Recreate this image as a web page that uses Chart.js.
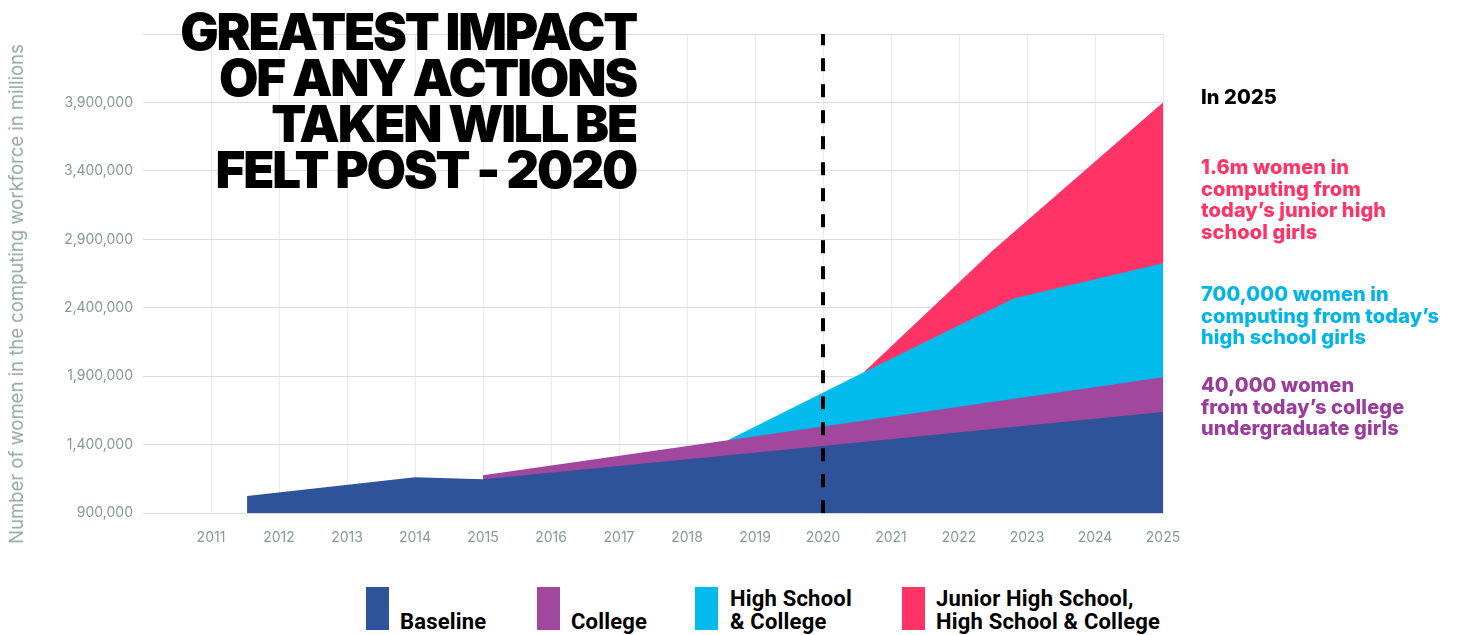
<!DOCTYPE html>
<html>
<head>
<meta charset="utf-8">
<script src="https://cdn.jsdelivr.net/npm/chart.js@4.4.1/dist/chart.umd.min.js"></script>
<style>
  body { margin: 0; background: #fff; }
  #wrap { position: relative; width: 1462px; height: 635px; overflow: hidden; }
  #chartBox { position: absolute; left: 0; top: 0; width: 1462px; height: 576px; }
  .title {
    position: absolute; left: 0; top: 9px; width: 636px; text-align: right;
    font: 900 51px/46px Inter, sans-serif; letter-spacing: -2.2px; color: #000;
  }
  .yTitle {
    position: absolute; left: 16px; top: 294px; white-space: nowrap;
    transform: translate(-50%, -50%) rotate(-90deg);
    font: 400 18.5px Inter, sans-serif; color: #9aa6a4;
  }
  .note { position: absolute; left: 1201px; font: 800 20px/21.5px Inter, sans-serif; letter-spacing: 0.1px; }
  .leg { position: absolute; top: 587px; width: 23px; height: 43px; }
  .legTxt { position: absolute; font: 700 22px/23px Roboto, sans-serif; letter-spacing: 0.2px; color: #000; }
</style>
</head>
<body>
<div id="wrap">
  <div id="chartBox"><canvas id="chartWomen"></canvas></div>

  <div class="yTitle">Number of women in the computing workforce in millions</div>

  <div class="title">GREATEST IMPACT<br>OF ANY ACTIONS<br>TAKEN WILL BE<br>FELT POST - 2020</div>

  <div class="note" style="top:87px;color:#000;">In 2025</div>
  <div class="note" style="top:157px;color:#ff3366;">1.6m women in<br>computing from<br>today’s junior high<br>school girls</div>
  <div class="note" style="top:284px;color:#00b5e8;">700,000 women in<br>computing from today’s<br>high school girls</div>
  <div class="note" style="top:375px;color:#9b3c9c;">40,000 women<br>from today’s college<br>undergraduate girls</div>

  <div class="leg" style="left:366px;background:#2e539b;"></div>
  <div class="legTxt" style="left:400px;top:610px;">Baseline</div>
  <div class="leg" style="left:537px;background:#a1479d;"></div>
  <div class="legTxt" style="left:571px;top:610px;">College</div>
  <div class="leg" style="left:695px;background:#00bbec;"></div>
  <div class="legTxt" style="left:730px;top:587px;">High School<br>&amp; College</div>
  <div class="leg" style="left:902px;background:#ff3366;"></div>
  <div class="legTxt" style="left:936px;top:587px;">Junior High School,<br>High School &amp; College</div>
</div>

<script>
// axes
const yMin = 900000;
const yMax = 4400000;
const yStep = 500000;
const xMin = 2010;
const xMax = 2025;
const dividerYear = 2020;

// series (total women in computing)
const baselineYears = [2011.53, 2014, 2015, 2020, 2025];
const baselineValues = [1026000, 1162000, 1148000, 1391000, 1640000];

const collegeYears = [2015, 2018.6, 2025];
const collegeValues = [1177000, 1433000, 1893000];

const highSchoolYears = [2018.6, 2020.6, 2022.8, 2025];
const highSchoolValues = [1433000, 1929000, 2469000, 2725000];

const juniorYears = [2020.6, 2022.5, 2025];
const juniorValues = [1929000, 2820000, 3900000];

function pts(xs, ys) {
    return xs.map((x, i) => ({ x: x, y: ys[i] }));
}

function area(label, xs, ys, color) {
    return {
        label: label,
        data: pts(xs, ys),
        backgroundColor: color,
        borderWidth: 0,
        pointRadius: 0,
        fill: 'start',
        tension: 0
    };
}

const ctx = document.getElementById('chartWomen');
new Chart(ctx, {
    type: 'line',
    data: {
        datasets: [
            {
                label: '2020',
                data: [{ x: dividerYear, y: yMin }, { x: dividerYear, y: yMax }],
                borderColor: '#000',
                borderWidth: 4,
                borderDash: [13, 13],
                pointRadius: 0,
                fill: false
            },
            area('Baseline', baselineYears, baselineValues, '#2e539b'),
            area('College', collegeYears, collegeValues, '#a1479d'),
            area('High School & College', highSchoolYears, highSchoolValues, '#00bbec'),
            area('Junior High School, High School & College', juniorYears, juniorValues, '#ff3366')
        ]
    },
    options: {
        responsive: true,
        maintainAspectRatio: false,
        animation: false,
        layout: { padding: { top: 34, right: 299, bottom: 14, left: 0 } },
        plugins: { legend: { display: false }, tooltip: { enabled: false } },
        scales: {
            x: {
                type: 'linear',
                min: xMin,
                max: xMax,
                border: { display: false },
                grid: {
                    drawTicks: false,
                    color: c => c.tick && c.tick.value === xMin ? 'rgba(0,0,0,0)' : '#ebebeb'
                },
                ticks: {
                    stepSize: 1,
                    padding: 16,
                    color: '#8a9896',
                    font: { family: 'Inter', size: 14 },
                    callback: v => v === xMin ? '' : String(v)
                }
            },
            y: {
                min: yMin,
                max: yMax,
                border: { display: false },
                afterFit: s => { s.width = 143; },
                grid: { drawTicks: false, color: '#dcdcdc' },
                ticks: {
                    stepSize: yStep,
                    padding: 10,
                    color: '#8a9896',
                    font: { family: 'Inter', size: 14 },
                    callback: v => v === yMax ? '' : v.toLocaleString('en-US')
                }
            }
        }
    }
});
</script>
</body>
</html>
